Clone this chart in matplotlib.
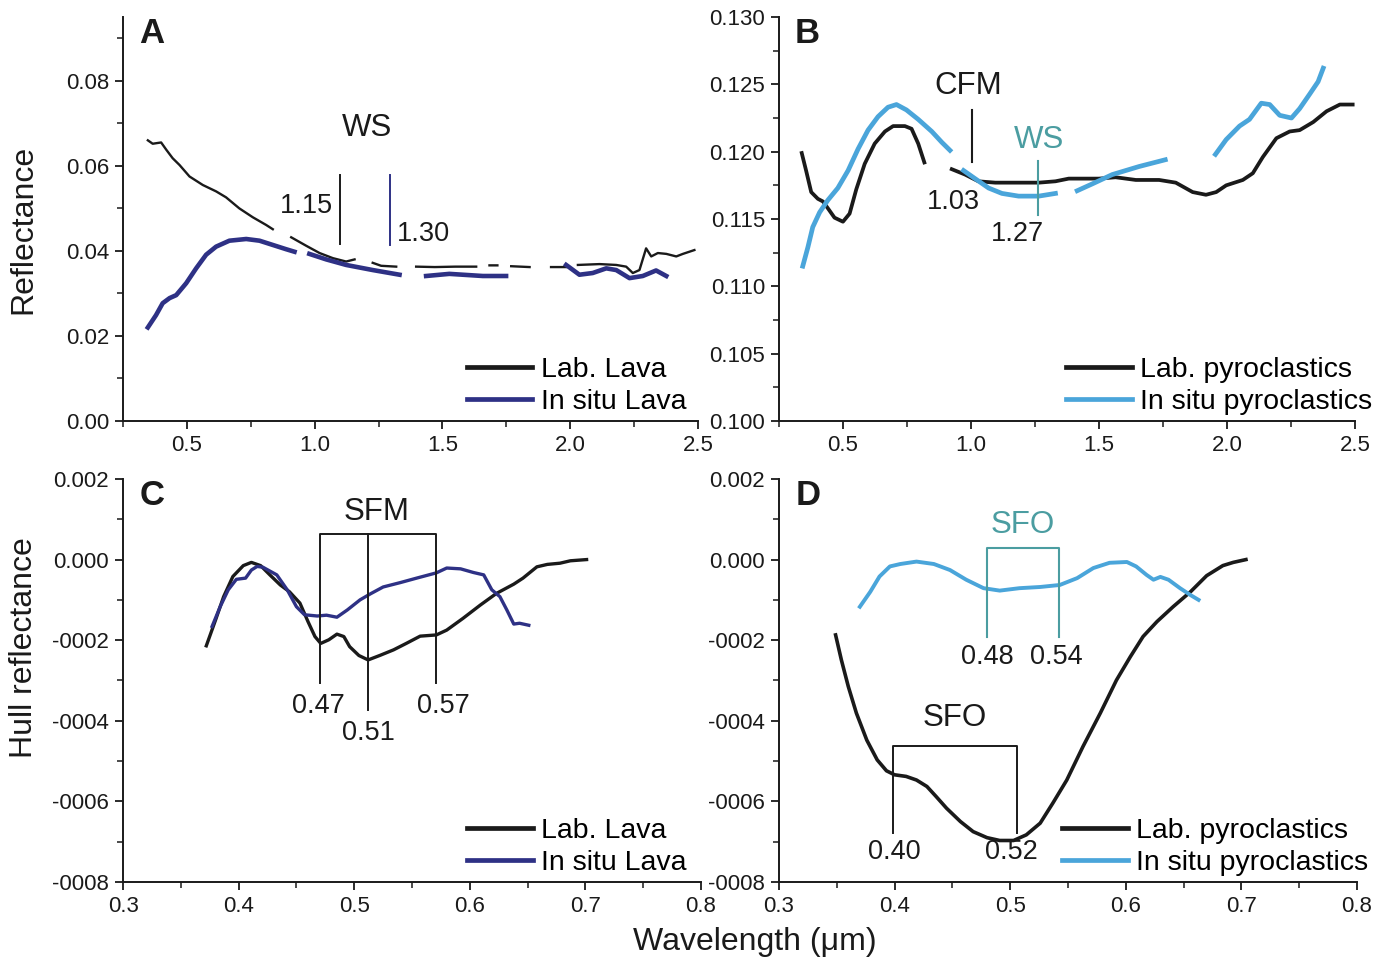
import numpy as np
import matplotlib.pyplot as plt
from matplotlib import font_manager
from matplotlib.ticker import MultipleLocator, FixedLocator, FixedFormatter

# --- fonts ---
names = set(f.name for f in font_manager.fontManager.ttflist)
NARROW = 'Liberation Sans Narrow' if 'Liberation Sans Narrow' in names else 'Liberation Sans'
REG = 'Liberation Sans'
plt.rcParams['font.family'] = [REG, 'DejaVu Sans']

BLACK = '#1a1a1a'
NAVY = '#2e3185'
LBLUE = '#4aa5da'
TEAL = '#4b9da1'

nan = np.nan

# --- panel A: reflectance, lava ---
a_lab_x = [0.347, 0.366, 0.399, 0.419, 0.444, 0.471, 0.510, 0.562, 0.614, 0.653, 0.705, 0.758, 0.810, 0.836, nan,
           0.908, 0.967, 1.019, 1.071, 1.123, 1.156, nan,
           1.227, 1.260, 1.319, nan,
           1.397, 1.470, 1.550, 1.632, nan,
           1.684, 1.715, nan,
           1.769, 1.841, nan,
           1.925, 1.984, nan,
           2.030, 2.115, 2.180, 2.219, 2.245, 2.271, 2.297, 2.317, 2.343, 2.376, 2.415, 2.441, 2.486]
a_lab_y = [0.0660, 0.0652, 0.0655, 0.0638, 0.0618, 0.0602, 0.0575, 0.0555, 0.0540, 0.0526, 0.0500, 0.0479, 0.0461, 0.0451, nan,
           0.0432, 0.0412, 0.0395, 0.0383, 0.0375, 0.0380, nan,
           0.0372, 0.0365, 0.0363, nan,
           0.0363, 0.0362, 0.0363, 0.0363, nan,
           0.0366, 0.0366, nan,
           0.0364, 0.0362, nan,
           0.0362, 0.0362, nan,
           0.0367, 0.0369, 0.0367, 0.0363, 0.0348, 0.0355, 0.0406, 0.0387, 0.0395, 0.0393, 0.0387, 0.0393, 0.0402]

a_insitu_x = [0.347, 0.379, 0.405, 0.432, 0.458, 0.497, 0.536, 0.575, 0.614, 0.666, 0.732, 0.784, 0.836, 0.888, 0.921, nan,
              0.979, 1.045, 1.123, 1.227, 1.332, nan,
              1.436, 1.527, 1.658, 1.749, nan,
              1.984, 2.036, 2.088, 2.141, 2.180, 2.232, 2.284, 2.336, 2.376]
a_insitu_y = [0.0220, 0.0249, 0.0277, 0.0289, 0.0296, 0.0324, 0.0359, 0.0391, 0.0410, 0.0424, 0.0428, 0.0424, 0.0414, 0.0404, 0.0398, nan,
              0.0393, 0.0380, 0.0367, 0.0355, 0.0344, nan,
              0.0341, 0.0346, 0.0341, 0.0341, nan,
              0.0367, 0.0344, 0.0348, 0.0359, 0.0355, 0.0336, 0.0341, 0.0354, 0.0341]

# --- panel B: reflectance, pyroclastics ---
b_lab_x = [0.339, 0.356, 0.376, 0.402, 0.422, 0.441, 0.467, 0.500, 0.526, 0.552, 0.585, 0.624, 0.664, 0.696, 0.742, 0.768, 0.794, 0.818, nan,
           0.925, 0.977, 1.029, 1.095, 1.186, 1.265, 1.330, 1.382, 1.422, 1.500, 1.565, 1.644, 1.735, 1.800, 1.866, 1.918,
           1.958, 1.997, 2.062, 2.101, 2.140, 2.193, 2.245, 2.284, 2.337, 2.389, 2.441, 2.491]
b_lab_y = [0.1199, 0.1186, 0.1170, 0.1165, 0.1163, 0.1158, 0.1151, 0.1148, 0.1154, 0.1172, 0.1191, 0.1206, 0.1215, 0.1219, 0.1219, 0.1217, 0.1206, 0.1192, nan,
           0.1187, 0.1183, 0.1178, 0.1177, 0.1177, 0.1177, 0.1178, 0.1180, 0.1180, 0.1180, 0.1181, 0.1179, 0.1179, 0.1177, 0.1170, 0.1168,
           0.1170, 0.1175, 0.1179, 0.1184, 0.1196, 0.1210, 0.1215, 0.1216, 0.1222, 0.1230, 0.1235, 0.1235]

b_insitu_x = [0.343, 0.363, 0.382, 0.409, 0.441, 0.480, 0.520, 0.559, 0.598, 0.637, 0.676, 0.709, 0.748, 0.794, 0.847, 0.886, 0.918, nan,
              0.971, 1.016, 1.069, 1.121, 1.186, 1.265, 1.330, nan,
              1.415, 1.473, 1.552, 1.657, 1.759, nan,
              1.955, 1.997, 2.049, 2.088, 2.134, 2.167, 2.206, 2.252, 2.284, 2.324, 2.356, 2.376]
b_insitu_y = [0.1115, 0.1129, 0.1144, 0.1155, 0.1164, 0.1173, 0.1186, 0.1202, 0.1216, 0.1226, 0.1233, 0.1235, 0.1231, 0.1224, 0.1215, 0.1207, 0.1201, nan,
              0.1186, 0.1180, 0.1173, 0.1169, 0.1167, 0.1167, 0.1169, nan,
              0.1171, 0.1176, 0.1183, 0.1189, 0.1194, nan,
              0.1198, 0.1209, 0.1219, 0.1224, 0.1236, 0.1235, 0.1227, 0.1225, 0.1232, 0.1243, 0.1252, 0.1262]

# --- panel C: hull reflectance, lava ---
c_lab_x = [0.372, 0.380, 0.387, 0.395, 0.404, 0.411, 0.419, 0.427, 0.436, 0.444, 0.453, 0.460, 0.466, 0.471, 0.478,
           0.485, 0.491, 0.496, 0.504, 0.512, 0.522, 0.534, 0.545, 0.557, 0.571, 0.580, 0.594, 0.609, 0.623, 0.638,
           0.646, 0.658, 0.667, 0.678, 0.687, 0.701]
c_lab_y = [-0.000214, -0.000150, -0.000092, -0.000042, -0.000015, -0.000007, -0.000015, -0.000038, -0.000063, -0.000080,
           -0.000108, -0.000154, -0.000191, -0.000208, -0.000199, -0.000185, -0.000191, -0.000216, -0.000238, -0.000249,
           -0.000238, -0.000224, -0.000208, -0.000190, -0.000187, -0.000175, -0.000146, -0.000113, -0.000084, -0.000061,
           -0.000046, -0.000018, -0.000012, -0.000009, -0.000003, 0.000000]

c_insitu_x = [0.377, 0.384, 0.391, 0.398, 0.406, 0.411, 0.416, 0.421, 0.433, 0.442, 0.450, 0.457, 0.468, 0.476, 0.485,
              0.494, 0.505, 0.514, 0.525, 0.540, 0.554, 0.571, 0.580, 0.592, 0.603, 0.612, 0.619, 0.626, 0.632, 0.638,
              0.643, 0.651]
c_insitu_y = [-0.000166, -0.000117, -0.000075, -0.000049, -0.000046, -0.000026, -0.000017, -0.000019, -0.000038, -0.000075,
              -0.000117, -0.000137, -0.000140, -0.000138, -0.000143, -0.000125, -0.000100, -0.000085, -0.000068, -0.000057,
              -0.000046, -0.000033, -0.000021, -0.000023, -0.000032, -0.000038, -0.000075, -0.000092, -0.000125, -0.000160,
              -0.000158, -0.000163]

# --- panel D: hull reflectance, pyroclastics ---
d_lab_x = [0.349, 0.354, 0.360, 0.367, 0.376, 0.385, 0.393, 0.400, 0.410, 0.419, 0.428, 0.436, 0.445, 0.457, 0.468,
           0.480, 0.491, 0.503, 0.514, 0.526, 0.537, 0.549, 0.563, 0.578, 0.592, 0.604, 0.615, 0.627, 0.641, 0.656,
           0.670, 0.684, 0.693, 0.704]
d_lab_y = [-0.000187, -0.000249, -0.000315, -0.000381, -0.000448, -0.000497, -0.000524, -0.000534, -0.000538, -0.000547,
           -0.000563, -0.000588, -0.000617, -0.000650, -0.000675, -0.000690, -0.000697, -0.000697, -0.000683, -0.000654,
           -0.000604, -0.000547, -0.000464, -0.000381, -0.000299, -0.000241, -0.000191, -0.000154, -0.000117, -0.000080,
           -0.000040, -0.000015, -0.000007, 0.000000]

d_insitu_x = [0.370, 0.379, 0.387, 0.396, 0.405, 0.419, 0.434, 0.448, 0.462, 0.477, 0.491, 0.508, 0.526, 0.543, 0.558,
              0.572, 0.586, 0.601, 0.609, 0.618, 0.624, 0.630, 0.637, 0.647, 0.656, 0.663]
d_insitu_y = [-0.000117, -0.000080, -0.000042, -0.000017, -0.000011, -0.000005, -0.000011, -0.000026, -0.000050, -0.000071,
              -0.000077, -0.000071, -0.000068, -0.000063, -0.000046, -0.000021, -0.000008, -0.000006, -0.000017, -0.000038,
              -0.000050, -0.000043, -0.000050, -0.000071, -0.000088, -0.000100]

hull_ticks = [0.0002, 0.0, -0.0002, -0.0004, -0.0006, -0.0008]
hull_labels = ['0.002', '0.000', '-0002', '-0004', '-0006', '-0008']

ANN = 22.5   # annotation words
NUM = 19.5   # annotation numbers


def style_axes(ax):
    for s in ['top', 'right']:
        ax.spines[s].set_visible(False)
    for s in ['left', 'bottom']:
        ax.spines[s].set_linewidth(1.4)
        ax.spines[s].set_color(BLACK)
    ax.tick_params(which='major', direction='out', length=6, width=1.3, labelsize=16, pad=4, colors=BLACK)
    ax.tick_params(which='minor', direction='out', length=4, width=1.1, colors=BLACK)
    for lab in ax.get_xticklabels() + ax.get_yticklabels():
        lab.set_fontfamily(NARROW)


def add_legend(ax, l1, l2, xr):
    leg = ax.legend([l1, l2], [l1.get_label(), l2.get_label()], loc='lower right', frameon=False,
                    prop={'family': NARROW, 'size': 20.5}, handlelength=2.3, handletextpad=0.3,
                    labelspacing=0.22, borderaxespad=0.0, borderpad=0.2, bbox_to_anchor=(xr, 0.0))
    for h in leg.get_lines():
        h.set_linewidth(3.4)
    return leg


def letter(ax, s):
    ax.text(0.028, 1.0, s, transform=ax.transAxes, ha='left', va='top', fontsize=25, fontweight='bold', color=BLACK)


fig = plt.figure(figsize=(13.89, 9.61), dpi=100)
axA = fig.add_axes([0.0886, 0.5619, 0.4139, 0.4204])
axB = fig.add_axes([0.5608, 0.5619, 0.4147, 0.4204])
axC = fig.add_axes([0.0886, 0.0822, 0.4161, 0.4194])
axD = fig.add_axes([0.5608, 0.0822, 0.4161, 0.4194])

# A
l1, = axA.plot(a_lab_x, a_lab_y, color=BLACK, lw=1.7, label='Lab. Lava')
l2, = axA.plot(a_insitu_x, a_insitu_y, color=NAVY, lw=3.3, label='In situ Lava')
axA.set_xlim(0.25, 2.5)
axA.set_ylim(0.0, 0.095)
axA.xaxis.set_major_locator(FixedLocator([0.5, 1.0, 1.5, 2.0, 2.5]))
axA.xaxis.set_minor_locator(MultipleLocator(0.25))
axA.yaxis.set_major_locator(FixedLocator([0.0, 0.02, 0.04, 0.06, 0.08]))
axA.yaxis.set_minor_locator(MultipleLocator(0.01))
axA.xaxis.set_major_formatter(FixedFormatter(['0.5', '1.0', '1.5', '2.0', '2.5']))
axA.yaxis.set_major_formatter(FixedFormatter(['0.00', '0.02', '0.04', '0.06', '0.08']))
axA.plot([1.10, 1.10], [0.0416, 0.0579], color=BLACK, lw=1.4)
axA.plot([1.296, 1.296], [0.0414, 0.0579], color=NAVY, lw=1.4)
axA.text(1.203, 0.0689, 'WS', fontsize=ANN, ha='center', va='center', color=BLACK)
axA.text(1.072, 0.0506, '1.15', fontsize=NUM, ha='right', va='center', color=BLACK)
axA.text(1.320, 0.0440, '1.30', fontsize=NUM, ha='left', va='center', color=BLACK)
add_legend(axA, l1, l2, 0.99)
style_axes(axA)
letter(axA, 'A')

# B
l1, = axB.plot(b_lab_x, b_lab_y, color=BLACK, lw=2.7, label='Lab. pyroclastics')
l2, = axB.plot(b_insitu_x, b_insitu_y, color=LBLUE, lw=3.4, label='In situ pyroclastics')
axB.set_xlim(0.25, 2.5)
axB.set_ylim(0.100, 0.130)
axB.xaxis.set_major_locator(FixedLocator([0.5, 1.0, 1.5, 2.0, 2.5]))
axB.xaxis.set_minor_locator(MultipleLocator(0.25))
axB.yaxis.set_major_locator(FixedLocator([0.100, 0.105, 0.110, 0.115, 0.120, 0.125, 0.130]))
axB.yaxis.set_minor_locator(MultipleLocator(0.0025))
axB.xaxis.set_major_formatter(FixedFormatter(['0.5', '1.0', '1.5', '2.0', '2.5']))
axB.yaxis.set_major_formatter(FixedFormatter(['0.100', '0.105', '0.110', '0.115', '0.120', '0.125', '0.130']))
axB.plot([1.003, 1.003], [0.1192, 0.1231], color=BLACK, lw=1.5)
axB.plot([1.262, 1.262], [0.1153, 0.1193], color=TEAL, lw=1.5)
axB.text(0.99, 0.1249, 'CFM', fontsize=ANN, ha='center', va='center', color=BLACK)
axB.text(1.265, 0.1209, 'WS', fontsize=ANN, ha='center', va='center', color=TEAL)
axB.text(0.931, 0.1163, '1.03', fontsize=NUM, ha='center', va='center', color=BLACK)
axB.text(1.182, 0.1139, '1.27', fontsize=NUM, ha='center', va='center', color=BLACK)
add_legend(axB, l1, l2, 1.04)
style_axes(axB)
letter(axB, 'B')

# C
l1, = axC.plot(c_lab_x, c_lab_y, color=BLACK, lw=2.4, label='Lab. Lava')
l2, = axC.plot(c_insitu_x, c_insitu_y, color=NAVY, lw=2.4, label='In situ Lava')
axC.set_xlim(0.3, 0.8)
axC.set_ylim(-0.0008, 0.0002)
axC.xaxis.set_major_locator(MultipleLocator(0.1))
axC.xaxis.set_minor_locator(MultipleLocator(0.05))
axC.yaxis.set_major_locator(FixedLocator(hull_ticks))
axC.yaxis.set_major_formatter(FixedFormatter(hull_labels))
axC.yaxis.set_minor_locator(MultipleLocator(0.0001))
axC.plot([0.4704, 0.4704, 0.5708, 0.5708], [-0.000307, 0.0000636, 0.0000636, -0.000307], color=BLACK, lw=1.4)
axC.plot([0.512, 0.512], [0.0000636, -0.000373], color=BLACK, lw=1.4)
axC.text(0.519, 0.000118, 'SFM', fontsize=ANN, ha='center', va='center', color=BLACK)
axC.text(0.469, -0.000363, '0.47', fontsize=NUM, ha='center', va='center', color=BLACK)
axC.text(0.512, -0.000430, '0.51', fontsize=NUM, ha='center', va='center', color=BLACK)
axC.text(0.577, -0.000363, '0.57', fontsize=NUM, ha='center', va='center', color=BLACK)
add_legend(axC, l1, l2, 0.985)
style_axes(axC)
letter(axC, 'C')

# D
l1, = axD.plot(d_lab_x, d_lab_y, color=BLACK, lw=2.6, label='Lab. pyroclastics')
l2, = axD.plot(d_insitu_x, d_insitu_y, color=LBLUE, lw=2.8, label='In situ pyroclastics')
axD.set_xlim(0.3, 0.8)
axD.set_ylim(-0.0008, 0.0002)
axD.xaxis.set_major_locator(MultipleLocator(0.1))
axD.xaxis.set_minor_locator(MultipleLocator(0.05))
axD.yaxis.set_major_locator(FixedLocator(hull_ticks))
axD.yaxis.set_major_formatter(FixedFormatter(hull_labels))
axD.yaxis.set_minor_locator(MultipleLocator(0.0001))
axD.plot([0.480, 0.480, 0.542, 0.542], [-0.000191, 0.0000281, 0.0000281, -0.000191], color=TEAL, lw=1.5)
axD.plot([0.399, 0.399, 0.506, 0.506], [-0.000679, -0.000462, -0.000462, -0.000679], color=BLACK, lw=1.4)
axD.text(0.511, 0.000086, 'SFO', fontsize=ANN, ha='center', va='center', color=TEAL)
axD.text(0.480, -0.000242, '0.48', fontsize=NUM, ha='center', va='center', color=BLACK)
axD.text(0.540, -0.000242, '0.54', fontsize=NUM, ha='center', va='center', color=BLACK)
axD.text(0.452, -0.000393, 'SFO', fontsize=ANN, ha='center', va='center', color=BLACK)
axD.text(0.400, -0.000725, '0.40', fontsize=NUM, ha='center', va='center', color=BLACK)
axD.text(0.501, -0.000725, '0.52', fontsize=NUM, ha='center', va='center', color=BLACK)
add_legend(axD, l1, l2, 1.03)
style_axes(axD)
letter(axD, 'D')

fig.text(0.017, 0.761, 'Reflectance', rotation=90, fontsize=23, ha='center', va='center', color=BLACK)
fig.text(0.017, 0.326, 'Hull reflectance', rotation=90, fontsize=23, ha='center', va='center', color=BLACK)
fig.text(0.5435, 0.02, 'Wavelength (μm)', fontsize=23, ha='center', va='center', color=BLACK)

fig.savefig('out.png', dpi=100)
